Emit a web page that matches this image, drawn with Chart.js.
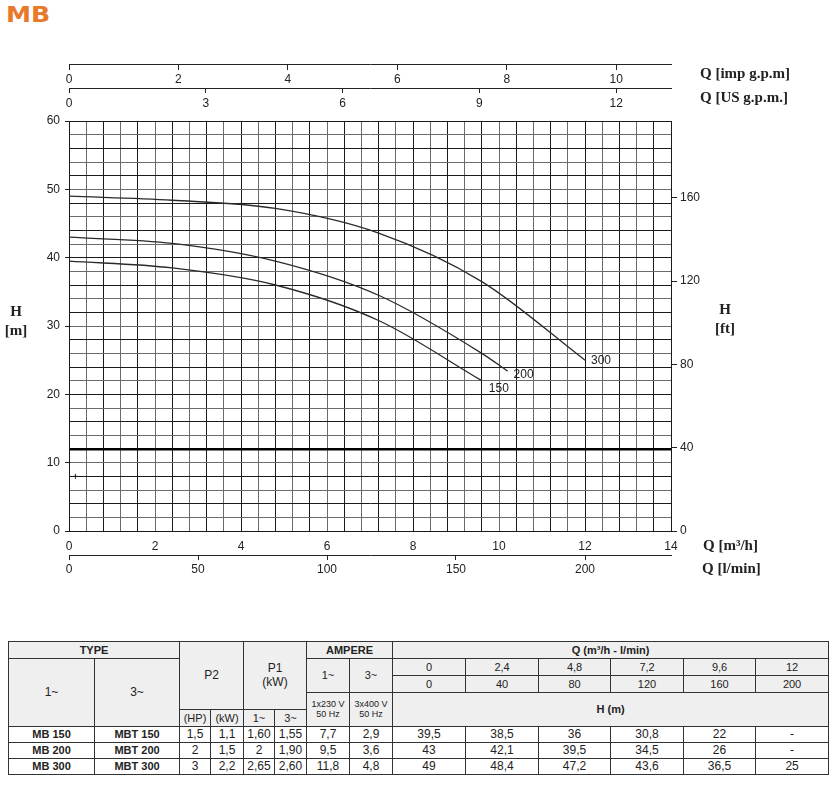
<!DOCTYPE html>
<html>
<head>
<meta charset="utf-8">
<title>MB - performance curves</title>
<script src="https://cdn.jsdelivr.net/npm/chart.js@4.4.1/dist/chart.umd.min.js"></script>
<style>
  body {
    margin: 0;
    background: #fff;
    width: 836px;
    height: 804px;
    position: relative;
    overflow: hidden;
    font-family: "Liberation Sans", Arial, sans-serif;
    color: #222;
  }
  #chartBox { position: absolute; left: 0; top: 0; width: 836px; height: 600px; }
  .brand {
    position: absolute; left: 6px; top: 3px;
    font: bold 21px "DejaVu Sans", sans-serif;
    color: #e8792a;
    transform: scaleX(1.2);
    transform-origin: left top;
  }
  .unit {
    position: absolute;
    font-family: "Liberation Serif", "DejaVu Serif", serif;
    font-weight: bold;
    font-size: 15px;
    line-height: 19px;
    color: #222;
    white-space: nowrap;
  }
  .unit.v { text-align: center; width: 40px; }

  /* spec table under the chart */
  #spec {
    position: absolute; left: 8px; top: 641px;
    width: 820px;
    border-collapse: collapse;
    table-layout: fixed;
    font-size: 11px;
    color: #222;
  }
  #spec td { border: 1px solid #333; text-align: center; padding: 0; line-height: 1.1; }
  #spec tr.h { height: 17px; }
  #spec tr.d { height: 16px; }
  #spec tr.d td { font-size: 12px; }
  #spec tr.d td.b { font-size: 11px; }
  #spec .g { background: #efefef; }
  #spec .b { font-weight: bold; }
  #spec .n { font-size: 12px; }
  #spec .s { font-size: 9px; }
</style>
</head>
<body>

<div class="brand">MB</div>
<div id="chartBox"><canvas id="pumpChart" width="836" height="600"></canvas></div>

<div class="unit" style="left:700px; top:64px;">Q [imp g.p.m]</div>
<div class="unit" style="left:700px; top:88px;">Q [US g.p.m.]</div>
<div class="unit" style="left:703px; top:536px;">Q [m³/h]</div>
<div class="unit" style="left:702px; top:559px;">Q [l/min]</div>
<div class="unit v" style="left:-4px; top:302px;">H<br>[m]</div>
<div class="unit v" style="left:705px; top:300px;">H<br>[ft]</div>

<table id="spec"></table>

<script>
// ===================================
// DATA (read off the table / picture)
// ===================================

// flow points of the table, m3/h and l/min
const Q_M3H = [0, 2.4, 4.8, 7.2, 9.6, 12];
const Q_LMIN = [0, 40, 80, 120, 160, 200];

// head in metres per model (null = no value, "-")
const H_MB150 = [39.5, 38.5, 36, 30.8, 22, null];
const H_MB200 = [43, 42.1, 39.5, 34.5, 26, null];
const H_MB300 = [49, 48.4, 47.2, 43.6, 36.5, 25];

// the 200 curve runs a bit past the last table point
const MB200_TAIL_Q = [10.2];
const MB200_TAIL_H = [23.4];

// the little cross near the bottom left of the grid
const MARK_Q = [0.15];
const MARK_H = [8];

const CURVE_LABELS = ['150', '200', '300'];

// other table columns
const TYPE_1PH = ['MB 150', 'MB 200', 'MB 300'];
const TYPE_3PH = ['MBT 150', 'MBT 200', 'MBT 300'];
const P2_HP = ['1,5', '2', '3'];
const P2_KW = ['1,1', '1,5', '2,2'];
const P1_1PH = ['1,60', '2', '2,65'];
const P1_3PH = ['1,55', '1,90', '2,60'];
const AMP_1PH = ['7,7', '9,5', '11,8'];
const AMP_3PH = ['2,9', '3,6', '4,8'];

// ===================================
// helpers
// ===================================
function toPoints(qs, hs) {
    return qs.map((q, i) => ({ x: q, y: hs[i] })).filter(p => p.y !== null);
}

function comma(v) {
    return v === null ? '-' : String(v).replace('.', ',');
}

const near = (v, step) => Math.abs(v / step - Math.round(v / step)) < 1e-6;

const TICK_FONT = { family: '"Liberation Sans", Arial, sans-serif', size: 12 };
const INK = '#222';

// label position next to the end of each curve
const LABEL_OFFSETS = [[7, 8], [6, 4], [6, 1]];

const curveLabels = {
    id: 'curveLabels',
    afterDatasetsDraw(chart) {
        const ctx = chart.ctx;
        ctx.save();
        ctx.font = '12px "Liberation Sans", Arial, sans-serif';
        ctx.fillStyle = INK;
        ctx.textBaseline = 'middle';
        CURVE_LABELS.forEach((txt, i) => {
            const pts = chart.getDatasetMeta(i).data;
            const last = pts[pts.length - 1];
            ctx.fillText(txt, last.x + LABEL_OFFSETS[i][0], last.y + LABEL_OFFSETS[i][1]);
        });
        ctx.restore();
    }
};

// ===================================
// Chart
// ===================================
function curve(data) {
    return {
        data: data,
        borderColor: '#2a2a2a',
        borderWidth: 1.3,
        pointRadius: 0,
        cubicInterpolationMode: 'monotone',
        fill: false
    };
}

function initChart() {
    const ctx = document.getElementById('pumpChart').getContext('2d');

    new Chart(ctx, {
        type: 'line',
        data: {
            datasets: [
                curve(toPoints(Q_M3H, H_MB150)),
                curve(toPoints(Q_M3H, H_MB200).concat(toPoints(MB200_TAIL_Q, MB200_TAIL_H))),
                curve(toPoints(Q_M3H, H_MB300)),
                {
                    data: toPoints(MARK_Q, MARK_H),
                    showLine: false,
                    pointStyle: 'cross',
                    pointRadius: 2.5,
                    borderColor: INK,
                    borderWidth: 1
                }
            ]
        },
        options: {
            responsive: false,
            animation: false,
            devicePixelRatio: 1,
            layout: { padding: { left: 9, right: 0, top: 121, bottom: 69 } },
            plugins: {
                legend: { display: false },
                tooltip: { enabled: false }
            },
            scales: {
                // main flow axis m3/h, sits on the bottom edge of the grid
                x: {
                    type: 'linear',
                    axis: 'x',
                    position: { y: 0 },
                    min: 0,
                    max: 14,
                    grid: {
                        color: c => (Math.round(c.tick.value / 0.4) % 2 === 0 ? '#1a1a1a' : '#6a6a6a'),
                        lineWidth: 1,
                        drawTicks: false
                    },
                    border: { color: '#1a1a1a' },
                    ticks: {
                        stepSize: 0.4,
                        autoSkip: false,
                        maxRotation: 0,
                        padding: 8,
                        color: INK,
                        font: TICK_FONT,
                        callback: v => (near(v, 2) ? Math.round(v) : '')
                    }
                },
                // l/min under the grid
                xl: {
                    type: 'linear',
                    axis: 'x',
                    position: { y: -3.59 },
                    min: 0,
                    max: 14 * 1000 / 60,
                    grid: { drawOnChartArea: false, tickLength: 4, color: INK },
                    border: { color: INK },
                    ticks: { stepSize: 50, includeBounds: false, autoSkip: false, padding: 3, color: INK, font: TICK_FONT, maxRotation: 0 }
                },
                // imp g.p.m, top line
                ximp: {
                    type: 'linear',
                    axis: 'x',
                    position: { y: 68.27 },
                    min: 0,
                    max: 11,
                    grid: { drawOnChartArea: false, tickLength: 5, color: INK },
                    border: { color: INK },
                    ticks: { stepSize: 2, includeBounds: false, autoSkip: false, padding: 3, color: INK, font: TICK_FONT, maxRotation: 0 }
                },
                // US g.p.m, second line
                xus: {
                    type: 'linear',
                    axis: 'x',
                    position: { y: 64.76 },
                    min: 0,
                    max: 13.2,
                    grid: { drawOnChartArea: false, tickLength: 4, color: INK },
                    border: { color: INK },
                    ticks: { stepSize: 3, includeBounds: false, autoSkip: false, padding: 4, color: INK, font: TICK_FONT, maxRotation: 0 }
                },
                // head in metres
                y: {
                    type: 'linear',
                    position: 'left',
                    min: 0,
                    max: 60,
                    afterFit: s => { s.width = 60; },
                    grid: {
                        color: c => (c.tick.value === 12 ? '#000' :
                            (Math.round(c.tick.value / 2) % 2 === 0 ? '#1a1a1a' : '#6a6a6a')),
                        lineWidth: c => (c.tick.value === 12 ? 2.6 : 1),
                        tickLength: 4,
                        tickColor: c => (near(c.tick.value, 10) ? INK : 'rgba(0,0,0,0)')
                    },
                    border: { color: '#1a1a1a' },
                    ticks: {
                        stepSize: 2,
                        autoSkip: false,
                        padding: 5,
                        color: INK,
                        font: TICK_FONT,
                        callback: v => (near(v, 10) ? v : '')
                    }
                },
                // head in feet
                yft: {
                    type: 'linear',
                    axis: 'y',
                    position: 'right',
                    min: 0,
                    max: 60 * 3.2808,
                    afterFit: s => { s.width = 165; },
                    grid: { drawOnChartArea: false, tickLength: 6, color: INK },
                    border: { color: '#1a1a1a' },
                    ticks: { stepSize: 40, includeBounds: false, padding: 3, color: INK, font: TICK_FONT }
                }
            }
        },
        plugins: [curveLabels]
    });
}

// ===================================
// Spec table, built from the same arrays
// ===================================
function buildTable() {
    const widths = [86, 85, 31, 33, 31, 32, 43, 43, 73, 73, 72, 73, 72, 73];
    let html = '<colgroup>' + widths.map(w => '<col style="width:' + w + 'px">').join('') + '</colgroup>';

    html += '<tr class="h">' +
        '<td class="g b" colspan="2">TYPE</td>' +
        '<td class="g n" colspan="2" rowspan="4">P2</td>' +
        '<td class="g n" colspan="2" rowspan="4">P1<br>(kW)</td>' +
        '<td class="g b" colspan="2">AMPERE</td>' +
        '<td class="g b" colspan="6">Q (m³/h - l/min)</td></tr>';

    html += '<tr class="h">' +
        '<td class="g n" rowspan="4">1~</td>' +
        '<td class="g n" rowspan="4">3~</td>' +
        '<td class="g" rowspan="2">1~</td>' +
        '<td class="g" rowspan="2">3~</td>' +
        Q_M3H.map(q => '<td class="g">' + comma(q) + '</td>').join('') + '</tr>';

    html += '<tr class="h">' +
        Q_LMIN.map(q => '<td class="g">' + q + '</td>').join('') + '</tr>';

    html += '<tr class="h">' +
        '<td class="g s" rowspan="2">1x230 V<br>50 Hz</td>' +
        '<td class="g s" rowspan="2">3x400 V<br>50 Hz</td>' +
        '<td class="g b" colspan="6" rowspan="2">H (m)</td></tr>';

    html += '<tr class="h">' +
        '<td class="g">(HP)</td><td class="g">(kW)</td>' +
        '<td class="g">1~</td><td class="g">3~</td></tr>';

    const heads = [H_MB150, H_MB200, H_MB300];
    heads.forEach((hs, r) => {
        html += '<tr class="d">' +
            '<td class="b">' + TYPE_1PH[r] + '</td>' +
            '<td class="b">' + TYPE_3PH[r] + '</td>' +
            '<td>' + P2_HP[r] + '</td><td>' + P2_KW[r] + '</td>' +
            '<td>' + P1_1PH[r] + '</td><td>' + P1_3PH[r] + '</td>' +
            '<td>' + AMP_1PH[r] + '</td><td>' + AMP_3PH[r] + '</td>' +
            hs.map(h => '<td>' + comma(h) + '</td>').join('') + '</tr>';
    });

    document.getElementById('spec').innerHTML = html;
}

buildTable();
initChart();
</script>
</body>
</html>
